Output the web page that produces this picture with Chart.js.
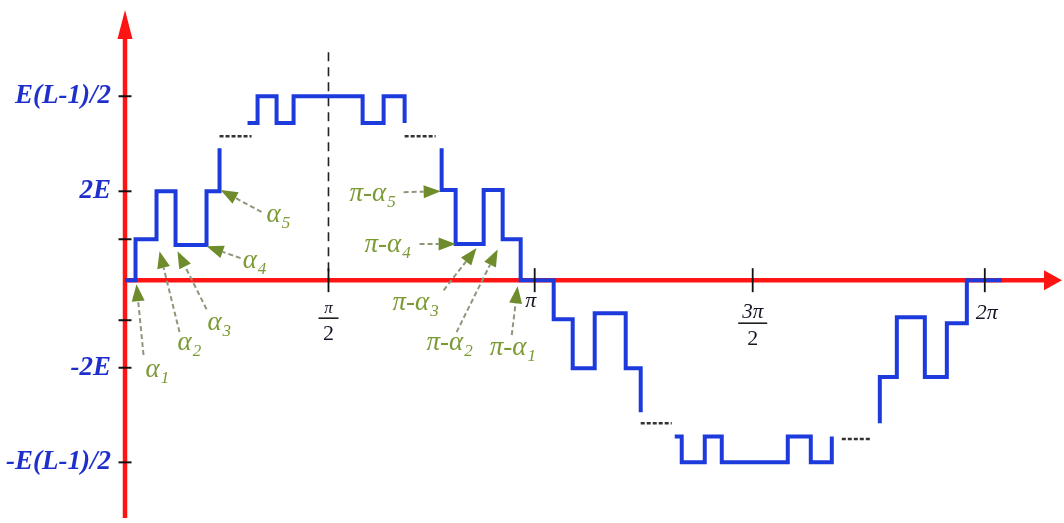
<!DOCTYPE html>
<html><head><meta charset="utf-8">
<script src="https://cdn.jsdelivr.net/npm/chart.js@4.4.1/dist/chart.umd.min.js"></script>
<style>html,body{margin:0;padding:0;background:#fff;}</style>
</head><body>
<canvas id="c" width="1064" height="523"></canvas>
<script>
// Waveform pieces: switching angle (deg) and level (multiples of E) after each switch
const angA = [0, 4.63, 13.88, 22.25, 35.90, 41.63];
const lvlA = [0, 0.93, 2.02, 0.80, 2.02, 3.00];
const angB = [53.96, 58.37, 66.74, 74.23, 104.63, 113.88, 123.13];
const lvlB = [3.57, 4.18, 3.57, 4.18, 3.57, 4.18, 3.57];
const angC = [139.43, 139.43, 145.59, 157.93, 166.30, 174.23, 188.77, 197.14, 206.83, 220.48, 227.09];
const lvlC = [3.00, 2.05, 0.82, 2.05, 0.93, 0, -0.89, -2.00, -0.75, -2.00, -3.00];
const angD = [242.07, 245.15, 255.29, 262.78, 291.85, 301.98, 311.23];
const lvlD = [-3.55, -4.14, -3.55, -4.14, -3.55, -4.14, -3.55];
const angE = [332.38, 332.38, 339.87, 352.20, 361.89, 370.70, 386.12];
const lvlE = [-3.25, -2.20, -0.84, -2.20, -0.98, 0, 0];
// "....." gaps (omitted levels)
const gapStart = [41.63, 123.13, 227.09, 315.64];
const gapEnd = [55.73, 136.78, 240.75, 328.85];
const gapLevel = [3.27, 3.27, -3.25, -3.61];
// dashed guide at pi/2
const guideX = [89.6, 89.6];
const guideY = [5.18, 0];
// axis ticks
const yTickValues = [-4.14, -1.99, -0.91, 0.93, 2.02, 4.18];
const yTickLabels = ['-E(L-1)/2', '-2E', '', '', '2E', 'E(L-1)/2'];
const xTickValues = [89.6, 180.4, 276.4, 378.6];
const xTickNum = ['π', 'π', '3π', '2π'];
const xTickDen = ['2', '', '2', ''];
// annotations (switching angle labels)
const annText = ['α', 'α', 'α', 'α', 'α', 'π-α', 'π-α', 'π-α', 'π-α', 'π-α'];
const annSub = ['1', '2', '3', '4', '5', '5', '4', '3', '2', '1'];
const annLabelX = [9.03, 23.1, 36.3, 51.8, 62.3, 98.9, 105.5, 117.8, 132.8, 160.6];
const annLabelY = [-2.20, -1.59, -1.14, 0.27, 1.32, 1.80, 0.64, -0.68, -1.59, -1.70];
const annTailX = [8.15, 24.0, 35.9, 50.9, 60.1, 122.7, 129.7, 140.3, 146.0, 170.3];
const annTailY = [-1.70, -1.18, -0.66, 0.50, 1.55, 2.00, 0.82, -0.23, -1.18, -1.25];
const annTipX = [5.07, 15.2, 23.1, 35.9, 42.1, 139.0, 145.6, 154.8, 164.1, 172.9];
const annTipY = [-0.09, 0.66, 0.66, 0.77, 2.05, 2.02, 0.82, 0.73, 0.70, -0.14];

const BLUE = '#1d3bdc', RED = '#ff1414', GREEN = '#6e8c2c', GREEN_LINE = '#8d987a', LABEL_GREEN = '#7a9a34';
const SERIF = '"Liberation Serif", "Times New Roman", serif';

const pts = (xs, ys) => xs.map((v, i) => ({x: v, y: ys[i]}));
const wave = (xs, ys) => ({data: pts(xs, ys), borderColor: BLUE, borderWidth: 4, stepped: true,
  pointRadius: 0, fill: false, borderJoinStyle: 'miter', borderCapStyle: 'butt'});

const datasets = [
  wave(angA, lvlA), wave(angB, lvlB), wave(angC, lvlC), wave(angD, lvlD), wave(angE, lvlE),
  ...gapStart.map((s, i) => ({data: [{x: s, y: gapLevel[i]}, {x: gapEnd[i], y: gapLevel[i]}],
    borderColor: '#333', borderWidth: 2.5, borderDash: [4, 2], pointRadius: 0, fill: false})),
  {data: pts(guideX, guideY), borderColor: '#222', borderWidth: 1.6, borderDash: [9, 6], pointRadius: 0, fill: false}
];

const deco = {
  id: 'deco',
  beforeDatasetsDraw(chart) {
    const {ctx, chartArea: ca, scales: {x, y}} = chart;
    const x0 = x.getPixelForValue(0), y0 = y.getPixelForValue(0);
    ctx.save();
    ctx.strokeStyle = RED; ctx.fillStyle = RED; ctx.lineWidth = 4.5;
    ctx.beginPath(); ctx.moveTo(x0, ca.bottom - 2); ctx.lineTo(x0, ca.top + 25); ctx.stroke();
    ctx.beginPath(); ctx.moveTo(x0, ca.top); ctx.lineTo(x0 - 7.5, ca.top + 29); ctx.lineTo(x0 + 7.5, ca.top + 29); ctx.closePath(); ctx.fill();
    ctx.beginPath(); ctx.moveTo(x0 - 2, y0); ctx.lineTo(ca.right - 14, y0); ctx.stroke();
    ctx.beginPath(); ctx.moveTo(ca.right, y0); ctx.lineTo(ca.right - 18, y0 - 10); ctx.lineTo(ca.right - 18, y0 + 10); ctx.closePath(); ctx.fill();
    ctx.restore();
  },
  afterDatasetsDraw(chart) {
    const {ctx, scales: {x, y}} = chart;
    const x0 = x.getPixelForValue(0), y0 = y.getPixelForValue(0);
    ctx.save();
    // tick marks
    ctx.strokeStyle = '#111'; ctx.lineWidth = 2;
    yTickValues.forEach(v => { const py = y.getPixelForValue(v);
      ctx.beginPath(); ctx.moveTo(x0 - 6.5, py); ctx.lineTo(x0 + 6.5, py); ctx.stroke(); });
    ctx.lineWidth = 1.8;
    xTickValues.forEach(v => { const px = x.getPixelForValue(v);
      ctx.beginPath(); ctx.moveTo(px, y0 - 12); ctx.lineTo(px, y0 + 12); ctx.stroke(); });
    // x tick labels
    ctx.fillStyle = '#151525'; ctx.textAlign = 'center'; ctx.textBaseline = 'alphabetic';
    xTickValues.forEach((v, i) => {
      const px = x.getPixelForValue(v);
      if (xTickDen[i]) {
        const small = xTickNum[i].length === 1;
        ctx.font = 'italic ' + (small ? 17 : 21) + 'px ' + SERIF;
        ctx.fillText(xTickNum[i], px, y0 + (small ? 33 : 38));
        const w = Math.max(ctx.measureText(xTickNum[i]).width + 8, 20);
        const by = y0 + (small ? 38 : 43);
        ctx.beginPath(); ctx.lineWidth = 1.5; ctx.moveTo(px - w / 2, by); ctx.lineTo(px + w / 2, by); ctx.stroke();
        ctx.font = '22px ' + SERIF;
        ctx.fillText(xTickDen[i], px, by + 22);
      } else {
        ctx.font = 'italic 22px ' + SERIF;
        const single = xTickNum[i].length === 1;
        ctx.fillText(xTickNum[i], px + (single ? -4 : 2), y0 + (single ? 27 : 39));
      }
    });
    // annotation arrows
    annText.forEach((t, i) => {
      const tx = x.getPixelForValue(annTailX[i]), ty = y.getPixelForValue(annTailY[i]);
      const hx = x.getPixelForValue(annTipX[i]), hy = y.getPixelForValue(annTipY[i]);
      const len = Math.hypot(hx - tx, hy - ty), dx = (hx - tx) / len, dy = (hy - ty) / len;
      const HL = 17, HW = 6.5;
      ctx.strokeStyle = GREEN_LINE; ctx.lineWidth = 2; ctx.setLineDash([5, 3]);
      ctx.beginPath(); ctx.moveTo(tx, ty); ctx.lineTo(hx - dx * HL, hy - dy * HL); ctx.stroke();
      ctx.setLineDash([]);
      ctx.fillStyle = GREEN;
      ctx.beginPath(); ctx.moveTo(hx, hy);
      ctx.lineTo(hx - dx * HL - dy * HW, hy - dy * HL + dx * HW);
      ctx.lineTo(hx - dx * HL + dy * HW, hy - dy * HL - dx * HW);
      ctx.closePath(); ctx.fill();
      // label
      const lx = x.getPixelForValue(annLabelX[i]), ly = y.getPixelForValue(annLabelY[i]);
      ctx.fillStyle = LABEL_GREEN; ctx.textAlign = 'left'; ctx.textBaseline = 'alphabetic';
      ctx.font = 'italic 27px ' + SERIF;
      ctx.fillText(t, lx, ly);
      const w = ctx.measureText(t).width;
      ctx.font = 'italic 17px ' + SERIF;
      ctx.fillText(annSub[i], lx + w + 1, ly + 6);
    });
    ctx.restore();
  }
};

new Chart(document.getElementById('c'), {
  type: 'line',
  data: {datasets},
  options: {
    responsive: false, animation: false, parsing: true,
    layout: {padding: {left: 0, right: 2, top: 10, bottom: 3}},
    plugins: {legend: {display: false}, tooltip: {enabled: false}},
    scales: {
      x: {type: 'linear', min: 0, max: 412.6, display: false},
      y: {type: 'linear', min: -5.45, max: 6.14, position: 'left',
        afterBuildTicks: s => { s.ticks = yTickValues.map(v => ({value: v})); },
        afterFit: s => { s.width = 125; s.paddingTop = 0; s.paddingBottom = 0; },
        ticks: {autoSkip: false, padding: 14, color: '#1f2fcc',
          callback: (v, i) => yTickLabels[i],
          font: {family: SERIF, size: 27, style: 'italic', weight: 'bold'}},
        grid: {display: false, drawTicks: false}, border: {display: false}}
    }
  },
  plugins: [deco]
});
</script>
</body></html>
